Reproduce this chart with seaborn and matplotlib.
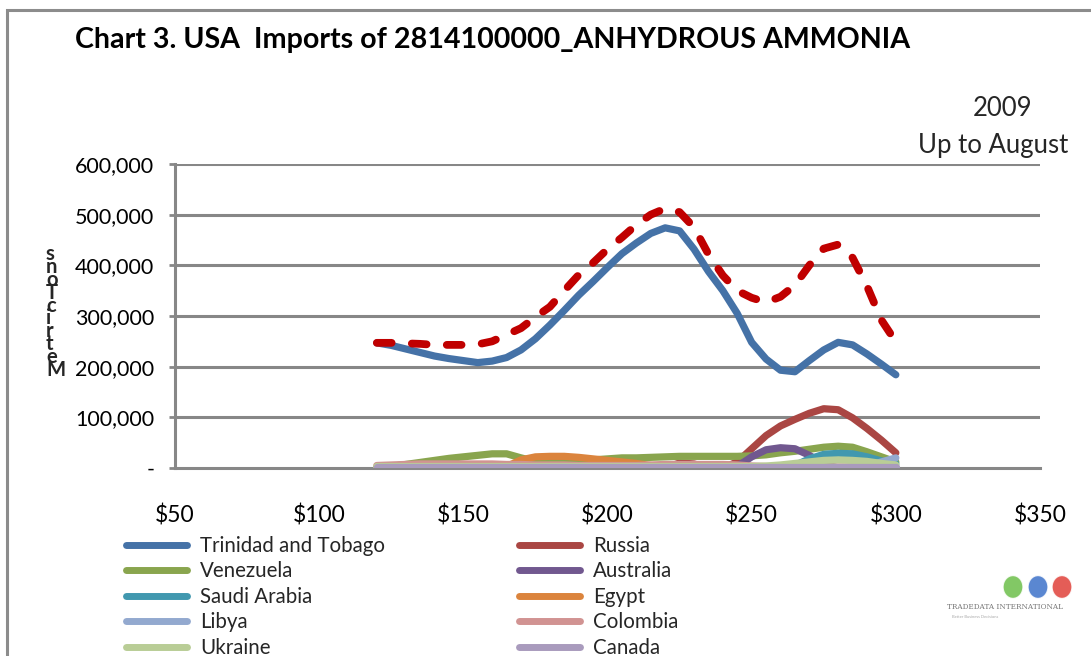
import numpy as np
import pandas as pd
import seaborn as sns
import matplotlib
matplotlib.use("Agg")
import matplotlib.pyplot as plt
from matplotlib.lines import Line2D
from matplotlib.patches import Rectangle, Ellipse
from matplotlib.ticker import FuncFormatter

sns.set_style("white")
plt.rcParams['font.family'] = ['Lato', 'DejaVu Sans']

# ---------------- data (thousand metric tons, by unit price $/ton) ----------------
prices = [120, 125, 130, 135, 140, 145, 150, 155, 160, 165, 170, 175, 180, 185, 190, 195,
          200, 205, 210, 215, 220, 225, 230, 235, 240, 245, 250, 255, 260, 265, 270, 275,
          280, 285, 290, 295, 300]

trinidad = [247, 242, 235, 228, 221, 216, 212, 208, 211, 218, 233, 255, 282, 311, 341, 368,
            396, 423, 444, 463, 474, 468, 432, 388, 350, 305, 248, 215, 193, 190, 212, 233,
            248, 243, 225, 205, 184]
russia = [0, 0, 0, 0, 0, 0, 0, 0, 0, 0, 0, 0, 0, 0, 0, 0,
          0, 0, 0, 0, 0, 10, 8, 0, 0, 12, 38, 64, 83, 96, 108, 117,
          115, 99, 78, 55, 30]
venezuela = [0, 3, 7, 11, 15, 19, 22, 25, 28, 28, 20, 13, 12, 12, 13, 16,
             18, 20, 20, 21, 22, 23, 23, 23, 23, 23, 24, 26, 30, 33, 37, 41,
             43, 41, 32, 22, 12]
australia = [0, 0, 0, 0, 0, 0, 0, 0, 0, 0, 0, 0, 0, 0, 0, 0,
             0, 0, 0, 0, 0, 0, 0, 0, 0, 3, 22, 36, 40, 38, 25, 8,
             0, 0, 0, 0, 0]
saudi = [0, 0, 0, 0, 0, 0, 0, 0, 0, 0, 0, 0, 0, 0, 0, 0,
         0, 0, 0, 0, 0, 0, 0, 0, 0, 0, 0, 0, 0, 5, 18, 27,
         29, 28, 22, 14, 8]
egypt = [0, 0, 0, 0, 0, 0, 0, 0, 0, 3, 16, 22, 23, 23, 21, 18,
         15, 12, 9, 5, 2, 0, 0, 0, 0, 0, 0, 0, 0, 0, 0, 0,
         0, 0, 0, 0, 0]
libya = [0, 0, 0, 0, 0, 0, 0, 0, 0, 0, 0, 0, 0, 0, 0, 0,
         0, 0, 0, 0, 0, 0, 0, 0, 0, 0, 0, 0, 0, 0, 0, 0,
         0, 0, 4, 12, 20]
colombia = [5, 6, 7, 8, 8, 8, 8, 8, 8, 7, 7, 6, 6, 6, 5, 5,
            5, 5, 5, 6, 7, 7, 7, 7, 7, 6, 4, 3, 2, 2, 2, 2,
            2, 2, 2, 2, 2]
ukraine = [3, 3, 3, 3, 3, 3, 3, 3, 3, 3, 3, 3, 3, 3, 3, 3,
           3, 3, 3, 3, 3, 3, 3, 3, 3, 3, 3, 4, 6, 9, 12, 15,
           16, 15, 13, 9, 6]
canada = [1, 1, 1, 1, 1, 1, 1, 1, 1, 1, 1, 1, 1, 1, 1, 1,
          1, 1, 1, 1, 1, 1, 1, 1, 1, 1, 1, 1, 1, 1, 1, 1,
          1, 1, 1, 1, 1]
total = [247, 247, 246, 245, 243, 243, 243, 244, 250, 263, 276, 298, 318, 350, 381, 405,
         432, 455, 480, 500, 512, 505, 475, 422, 380, 350, 336, 327, 338, 361, 400, 433,
         441, 415, 359, 292, 249]

series_names = ["Trinidad and Tobago", "Russia", "Venezuela", "Australia", "Saudi Arabia",
                "Egypt", "Libya", "Colombia", "Ukraine", "Canada"]
series_values = [trinidad, russia, venezuela, australia, saudi, egypt, libya, colombia,
                 ukraine, canada]
series_colors = ["#4572A7", "#AA4643", "#89A54E", "#71588F", "#4198AF",
                 "#DB843D", "#93A9CF", "#D19392", "#B9CD96", "#A99BBD"]

x_ticks = [50, 100, 150, 200, 250, 300, 350]
y_ticks = [0, 100000, 200000, 300000, 400000, 500000, 600000]

title = "Chart 3. USA  Imports of 2814100000_ANHYDROUS AMMONIA"
y_label_letters = ["s", "n", "o", "T", "c", "i", "r", "t", "e", "M"]

# ---------------- figure ----------------
W, H = 1091, 656
fig = plt.figure(figsize=(W / 100, H / 100), dpi=100)
fig.patch.set_facecolor("white")

ax = fig.add_axes([175 / W, 1 - 468 / H, (1040 - 175) / W, (468 - 164) / H])

grid_c = "#878787"
for yv in y_ticks[1:]:
    ax.axhline(yv, color=grid_c, lw=2.2, zorder=0)

for name, vals, col in zip(series_names, series_values, series_colors):
    df = pd.DataFrame({"price": prices, "value": np.array(vals) * 1000})
    sns.lineplot(data=df, x="price", y="value", ax=ax, color=col, lw=5.2,
                 solid_capstyle="round", solid_joinstyle="round", zorder=2,
                 legend=False, sort=False)

dft = pd.DataFrame({"price": prices, "value": np.array(total) * 1000})
sns.lineplot(data=dft, x="price", y="value", ax=ax, color="#C00000", lw=5.6,
             zorder=3, legend=False, sort=False)
tl = ax.get_lines()[-1]
tl.set_dashes([1.9, 2.6])
tl.set_dash_capstyle("round")

ax.set_xlim(50, 350)
ax.set_ylim(0, 600000)
ax.set_xticks(x_ticks)
ax.set_xticklabels(["$%d" % v for v in x_ticks])
ax.set_yticks(y_ticks)
ax.yaxis.set_major_formatter(FuncFormatter(lambda v, p: "-" if v == 0 else f"{int(v):,}"))
ax.set_xlabel("")
ax.set_ylabel("")

for s in ["top", "right"]:
    ax.spines[s].set_visible(False)
for s in ["left", "bottom"]:
    ax.spines[s].set_color(grid_c)
    ax.spines[s].set_linewidth(2.2)
ax.spines["bottom"].set_zorder(1)

ax.tick_params(axis="y", which="both", left=True, length=4, width=2, color=grid_c,
               pad=11, labelsize=15.5, labelcolor="black")
ax.tick_params(axis="x", which="both", bottom=False, length=0, pad=26, labelsize=16.5,
               labelcolor="black")
ax.set_facecolor("white")

# title and annotations
fig.text(75 / W, 1 - 40 / H, title, fontsize=20.6, fontweight="bold", ha="left",
         va="center", color="black")
fig.text(1003 / W, 1 - 109 / H, "2009", fontsize=18.5, ha="center", va="center")
fig.text(993 / W, 1 - 146 / H, "Up to August", fontsize=18.5, ha="center", va="center")

# stacked y label
fig.text(46 / W, 1 - 312 / H, "\n".join(y_label_letters), fontsize=14.6, fontweight="bold",
         ha="left", va="center", multialignment="left", linespacing=0.56)

# legend
handles = {n: Line2D([], [], color=c, lw=5, solid_capstyle="round")
           for n, c in zip(series_names, series_colors)}
order = ["Trinidad and Tobago", "Venezuela", "Saudi Arabia", "Libya", "Ukraine",
         "Russia", "Australia", "Egypt", "Colombia", "Canada"]
leg = fig.legend([handles[n] for n in order], order, ncol=2, loc="upper left",
                 bbox_to_anchor=(125.5 / W, 1 - 536 / H), frameon=False, fontsize=14.8,
                 handlelength=2.97, handletextpad=0.66, columnspacing=6.5,
                 labelspacing=0.265, borderpad=0, borderaxespad=0)

# outer chart border
fig.add_artist(Rectangle((6.5 / W, -0.5), 2.0, (1 - 10 / H) + 0.5, transform=fig.transFigure,
                         fill=False, edgecolor="#8c8c8c", lw=2.2))

# logo
for xc, c in [(1013, "#6cbf4a"), (1038, "#3d72c9"), (1062, "#e0403a")]:
    fig.add_artist(Ellipse((xc / W, 1 - 587 / H), 20 / W, 23 / H, transform=fig.transFigure,
                           facecolor=c, edgecolor="white", lw=1, alpha=0.85))
fig.text(1005 / W, 1 - 607 / H, "TRADEDATA INTERNATIONAL", fontsize=5.2, ha="center",
         va="center", color="#777777", family=["DejaVu Serif"])
fig.text(975 / W, 1 - 617 / H, "Better Business Decisions", fontsize=3, ha="center",
         va="center", color="#aaaaaa")

fig.savefig("out.png", dpi=100)
